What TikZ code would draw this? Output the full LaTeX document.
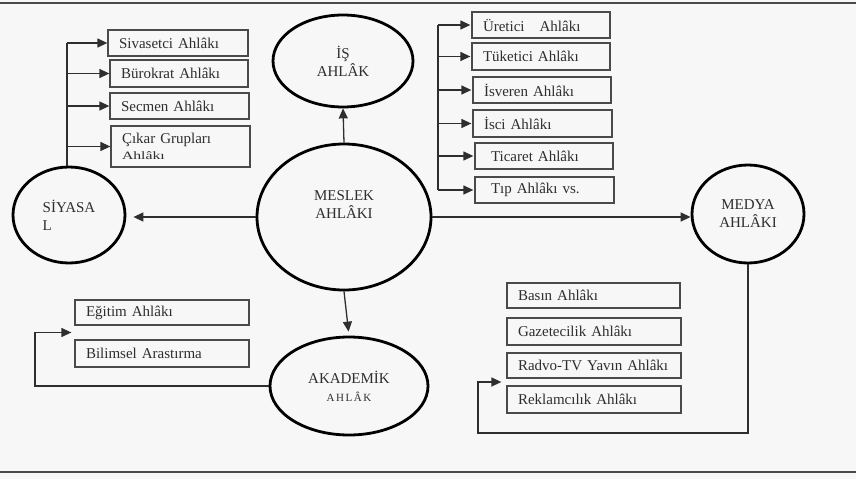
\documentclass[tikz,border=0pt]{standalone}
\usepackage{fontspec}
\usepackage{graphicx}
\setmainfont{Liberation Serif}
\usetikzlibrary{arrows.meta,shapes.geometric,calc}
\definecolor{paper}{HTML}{F7F7F7}
\definecolor{ink}{HTML}{2E2E2E}
\definecolor{boxline}{HTML}{4A4A4A}
\begin{document}
\begin{tikzpicture}[x=1pt,y=-1pt,
  boxn/.style={draw=boxline, line width=1.3pt, rectangle, inner xsep=11pt, inner ysep=0pt,
    align=left, text=ink, font=\fontsize{15}{17}\selectfont, anchor=center},
  oval/.style={draw=black, line width=2.8pt, ellipse, inner sep=0pt, align=center,
    text=ink, font=\fontsize{15}{18}\selectfont},
  conn/.style={draw=ink, line width=1.3pt},
  arr/.style={conn, -{Triangle[length=10pt,width=9pt]}}
]
\useasboundingbox (0,0) rectangle (856,479);
\fill[paper] (0,0) rectangle (856,479);
% frame lines
\coordinate (ftl) at (0,3);
\coordinate (ftr) at (856,3);
\coordinate (fbl) at (0,472);
\coordinate (fbr) at (856,472);
\draw[boxline, line width=1.3pt] (ftl) -- (ftr);
\draw[boxline, line width=1.3pt] (fbl) -- (fbr);

% ellipses
\node[oval, minimum width=112pt, minimum height=96pt, align=left] (siyasal) at (69,215) {SİYASA\\L};
\node[oval, minimum width=140pt, minimum height=92pt] (is) at (343,61) {İŞ\\AHLÂK};
\node[oval, minimum width=174pt, minimum height=146pt] (meslek) at (344,217) {MESLEK\\AHLÂKI\\[6pt]};
\node[oval, minimum width=112pt, minimum height=98pt] (medya) at (748,214) {MEDYA\\AHLÂKI};
\node[oval, minimum width=158pt, minimum height=98pt] (akademik) at (349,386)
  {AKADEMİK\\{\fontsize{11}{13}\selectfont\addfontfeature{LetterSpace=14}AHLÂK}};

% left (siyasal) boxes
\node[boxn, minimum height=26pt, text width=118pt] (sivasetci) at (178,43) {Sivasetci Ahlâkı};
\node[boxn, minimum height=27pt, text width=116pt] (burokrat) at (179,73.5) {Bürokrat Ahlâkı};
\node[boxn, minimum height=26pt, text width=117pt] (secmen) at (179.5,106) {Secmen Ahlâkı};
\node[boxn, minimum height=41pt, text width=117pt] (cikar) at (180.5,146.5)
  {Çıkar Grupları\\[-1pt]\scalebox{1.05}[0.75]{Ahlâkı}};

% right (iş) boxes
\node[boxn, minimum height=26pt, text width=116pt] (uretici) at (541,25) {Üretici\ \ \ Ahlâkı};
\node[boxn, minimum height=27pt, text width=116pt] (tuketici) at (541,56.5) {Tüketici Ahlâkı};
\node[boxn, minimum height=26pt, text width=116pt] (isveren) at (542,90) {İsveren Ahlâkı};
\node[boxn, minimum height=27pt, text width=117pt] (isci) at (542.5,123.5) {İsci Ahlâkı};
\node[boxn, minimum height=26pt, text width=116pt] (ticaret) at (544,156) {\ Ticaret Ahlâkı};
\node[boxn, minimum height=26pt, text width=117pt] (tip) at (544.5,190) {\ Tıp Ahlâkı vs.};

% akademik boxes
\node[boxn, minimum height=25pt, text width=152pt] (egitim) at (162,312.5) {Eğitim Ahlâkı};
\node[boxn, minimum height=27pt, text width=152pt] (bilimsel) at (162,353.5) {Bilimsel Arastırma};

% medya boxes
\node[boxn, minimum height=25pt, text width=151pt] (basin) at (593.5,295.5) {Basın Ahlâkı};
\node[boxn, minimum height=27pt, text width=152pt] (gazete) at (594,331.5) {Gazetecilik Ahlâkı};
\node[boxn, minimum height=25pt, text width=152pt] (radyo) at (594,365.5) {Radvo-TV Yavın Ahlâkı};
\node[boxn, minimum height=27pt, text width=152pt] (reklam) at (594,399.5) {Reklamcılık Ahlâkı};

% connectors from meslek
\draw[arr] (meslek.north) -- (is.south);
\draw[arr, shorten >=7pt] (meslek.west) -- (meslek.west -| siyasal.east);
\draw[arr] (meslek.east) -- (meslek.east -| medya.west);
\draw[arr, shorten >=4pt] (meslek.south) -- (akademik.north);

% siyasal trunk
\coordinate (strunk) at (67,0);
\draw[conn] (siyasal.north -| strunk) -- (strunk |- sivasetci.west);
\foreach \b in {sivasetci,burokrat,secmen,cikar}
  \draw[arr] (strunk |- \b.west) -- (\b.west);

% is trunk
\coordinate (rtrunk) at (438,0);
\draw[conn] (rtrunk |- uretici.west) -- (rtrunk |- tip.west);
\foreach \b in {uretici,tuketici,isveren,isci,ticaret,tip}
  \draw[arr, shorten >=1pt] (rtrunk |- \b.west) -- (\b.west);

% akademik loop
\coordinate (akgap) at ($(egitim.south west)!0.5!(bilimsel.north west)$);
\draw[arr, shorten >=3pt] (akademik.west) -- (35,386) |- (akgap);

% medya loop
\coordinate (mdgap) at ($(radyo.south west)!0.5!(reklam.north west)$);
\draw[arr, shorten >=5pt] (medya.south) -- (medya.south |- 0,433) -- (478,433) |- (mdgap);
\end{tikzpicture}
\end{document}
